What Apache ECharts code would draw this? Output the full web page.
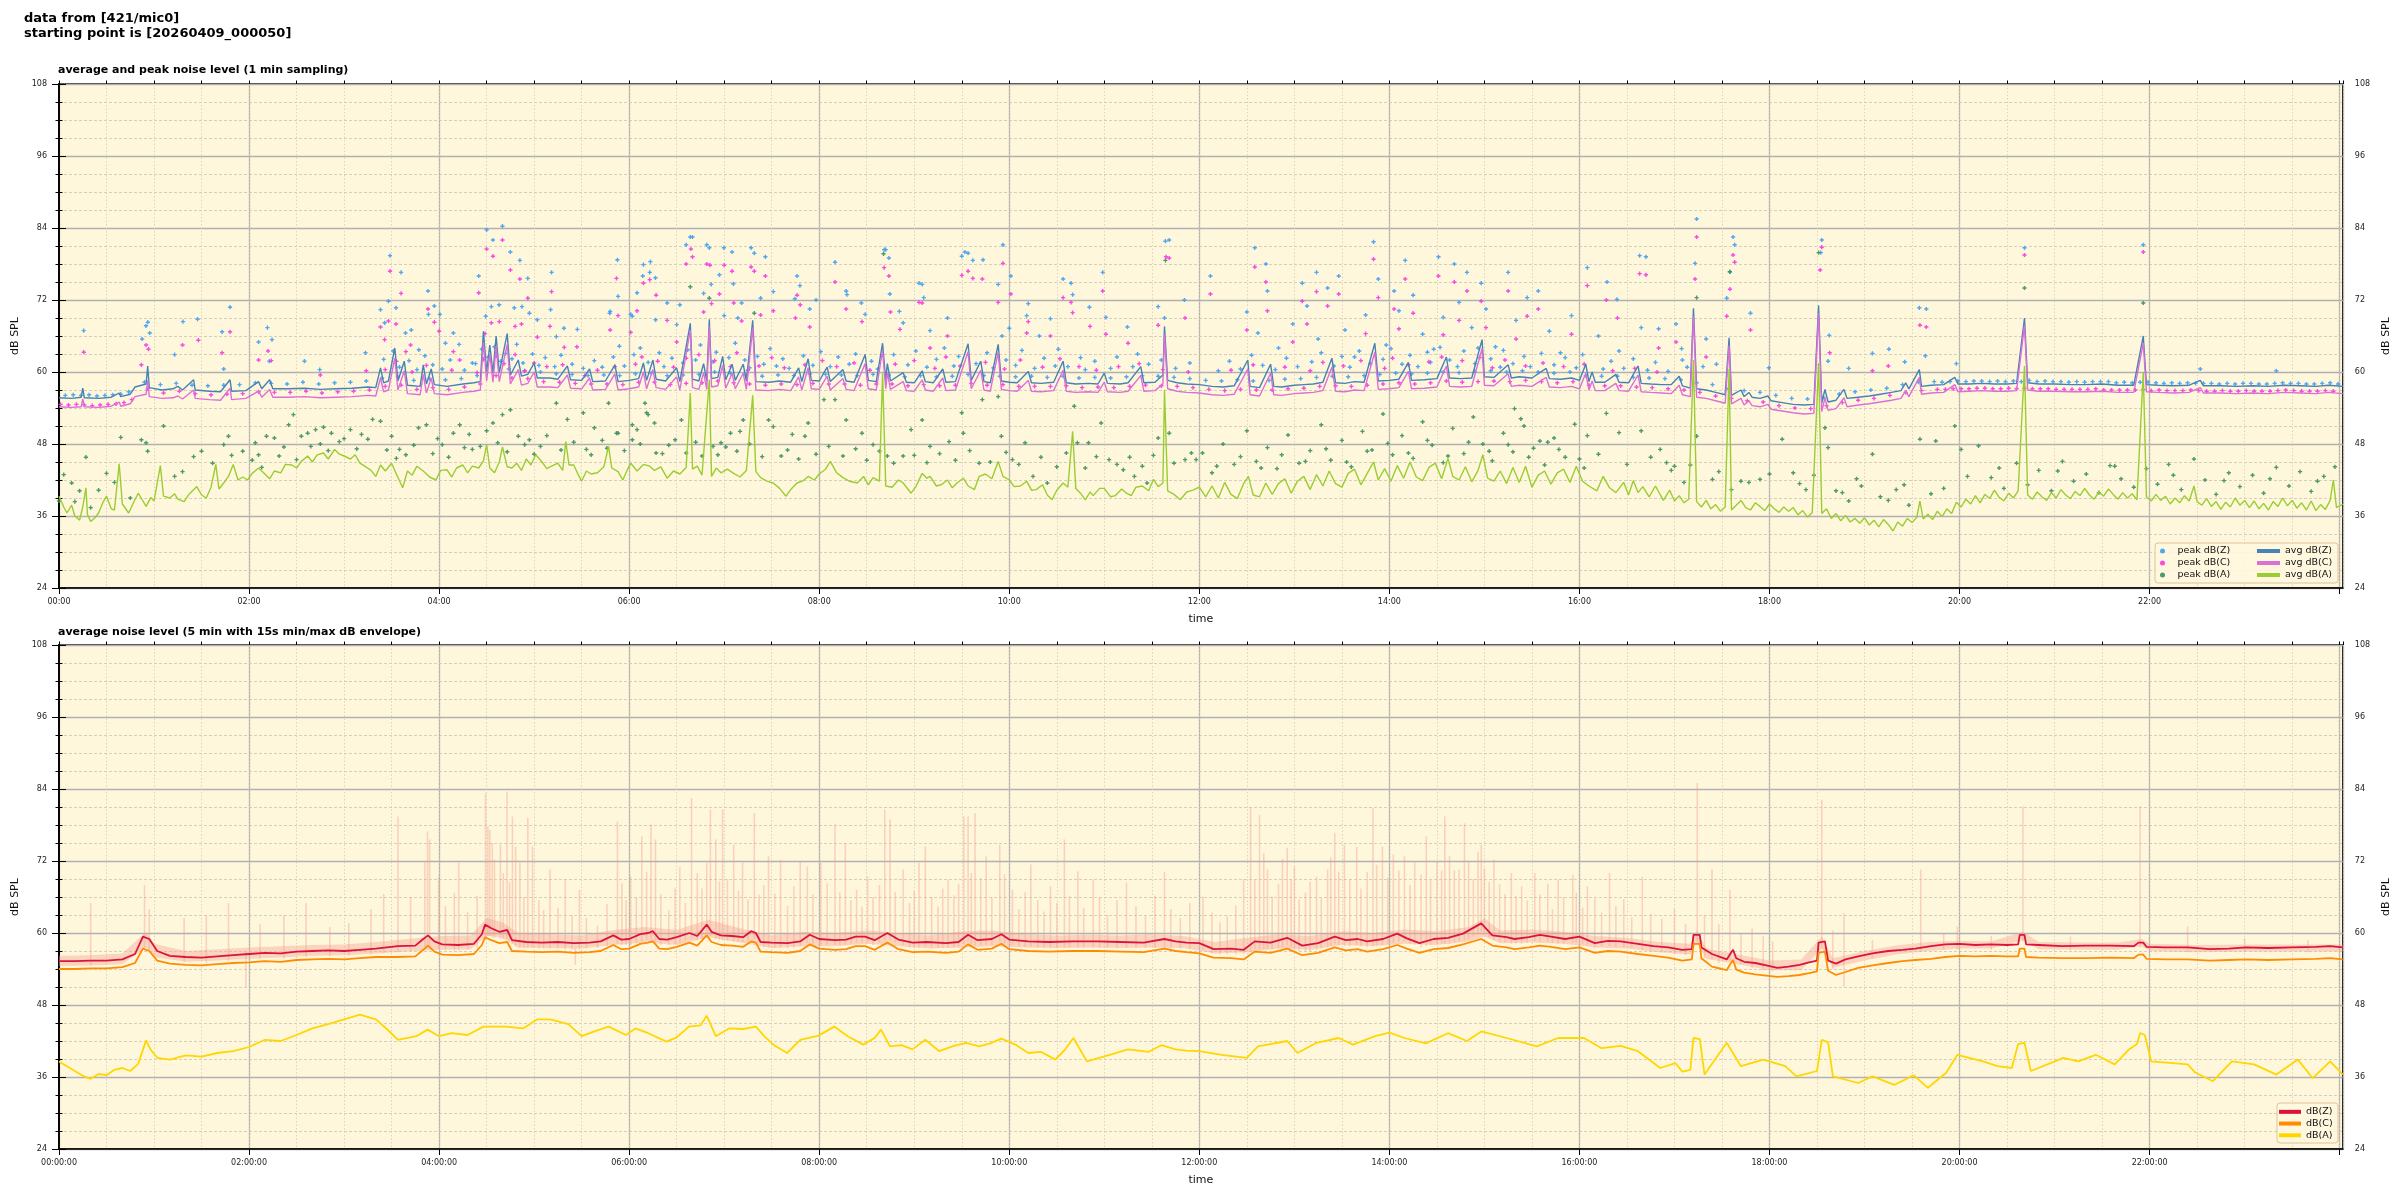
<!DOCTYPE html>
<html><head><meta charset="utf-8">
<script src="https://cdn.jsdelivr.net/npm/echarts@6/dist/echarts.min.js"></script>
<style>html,body{margin:0;padding:0;background:#fff}#c{width:2400px;height:1200px}</style>
</head><body><div id="c"></div>
<script>
// ---------- DATA (time in minutes after 00:00, level in dB SPL) ----------
const xLabelsTop = ['00:00','02:00','04:00','06:00','08:00','10:00','12:00','14:00','16:00','18:00','20:00','22:00'];
const xLabelsBottom = ['00:00:00','02:00:00','04:00:00','06:00:00','08:00:00','10:00:00','12:00:00','14:00:00','16:00:00','18:00:00','20:00:00','22:00:00'];

const avgZ1 = [[0,55.7],[8,55.6],[14,55.8],[15,57.3],[16,55.7],[25,55.6],[33,55.8],[38,56.5],[39,55.9],[45,56.3],[48,57.5],[55,58],[56,61],[57,57.4],[65,57.0],[72,57.2],[75,57.6],[78,57.0],[85,58.7],[86,57.0],[95,56.8],[102,56.7],[108,58.7],[109,56.8],[118,56.9],[126,58.4],[128,57.2],[133,58.7],[135,57.2],[145,57.2],[155,57.3],[165,57.1],[175,57.2],[185,57.3],[195,57.5],[200,57.4],[203,60.7],[205,58.2],[208,58.5],[212,64.0],[214,58.5],[218,61.8],[220,57.8],[228,57.6],[230,61.2],[232,58],[235,60.5],[237,57.9],[245,57.6],[255,58.0],[262,58.2],[266,58.4],[268,66.8],[270,60],[272,64.5],[274,59.8],[276,66],[278,59.9],[283,66.4],[285,59.5],[290,62],[292,59.3],[296,59.6],[300,61.5],[302,59.0],[310,59.0],[315,58.8],[321,61.0],[323,58.7],[330,58.6],[335,60.5],[337,58.4],[345,58.5],[351,61.2],[353,58.4],[360,58.6],[366,58.9],[369,61.5],[371,58.6],[375,62],[377,58.8],[383,58.5],[390,60.7],[392,58.4],[398.6,68.1],[400,58.8],[404,58.5],[407,61.4],[409,58.5],[410.6,68.8],[412,58.9],[416,59.1],[419,62.6],[421,58.7],[425,61.3],[427,58.6],[432,61.3],[434,58.5],[438,68.6],[440,58.4],[448,58.3],[455,58.5],[462,58.3],[467,60.7],[469,58.4],[473,62.2],[475,58.6],[480,58.5],[485,60.8],[487,58.4],[495,60.4],[497,58.5],[502,58.3],[509,62.9],[511,58.6],[516,58.4],[520,64.8],[522,58.6],[523,61.4],[525,58.5],[533,59.9],[535,58.3],[540,58.2],[545,60.2],[547,58.4],[552,58.2],[558,60.5],[560,58.3],[566,58.4],[574,64.7],[576,58.6],[582,61.8],[584,58.4],[588,58.2],[593,64.6],[595,58.5],[600,58.3],[605,58.2],[612,60.1],[614,58.2],[620,58.1],[628,58.3],[634,61.8],[636,58.2],[642,58.0],[650,58.1],[656,58.0],[660,59.8],[662,58.1],[670,58.0],[675,58.2],[683,60.9],[685,58.2],[692,58.3],[697,59.5],[698,67.6],[700,58.6],[706,58.2],[712,58.0],[720,57.9],[728,57.6],[735,57.5],[742,57.7],[750.6,62],[752,57.6],[758,57.4],[765,61.3],[767,57.6],[772,57.5],[780,57.8],[786,57.9],[792,58.0],[798,58.3],[803.7,62.3],[806,58.2],[812,58.1],[818,58.4],[824,58.3],[830.8,64.8],[833,58.5],[840,58.6],[846,58.8],[852,61.6],[854,58.6],[862,58.7],[870,58.9],[876,62.5],[878,59.0],[885,58.9],[892,59.0],[898.5,65.4],[900,59.2],[906,59.1],[915,61.2],[917,59.0],[922,59.2],[930,59.0],[939,60.6],[941,58.9],[948,58.8],[955,59.0],[960,58.6],[964,61.3],[966,58.4],[968,60],[970,58.3],[976,58.3],[983,59.6],[985,58.3],[991,58.2],[997,61],[999,58.1],[1005,58.0],[1012,57.9],[1018,57.9],[1023,59.3],[1025,57.7],[1030,57.3],[1032,70.6],[1034,57.2],[1040,57.0],[1046,56.6],[1052,56.2],[1054.5,65.7],[1056,56.1],[1062,57.0],[1064,55.9],[1067,56.6],[1069,55.8],[1074,55.6],[1079,56],[1081,55.2],[1088,54.9],[1095,54.6],[1102,54.5],[1108,54.6],[1111,71.1],[1113,54.8],[1115,57.1],[1117,55.0],[1122,55.3],[1127,57.1],[1129,55.6],[1136,55.8],[1143,56.0],[1150,56.3],[1157,56.6],[1163,56.9],[1166,58.2],[1168,57.2],[1174.6,60.4],[1176,57.6],[1182,57.8],[1190,57.9],[1197,59.1],[1199,58.0],[1206,58.0],[1214,58.1],[1222,58.0],[1230,58.0],[1236,58.1],[1241,69],[1243,58.2],[1250,58.0],[1260,58.0],[1270,57.9],[1280,57.9],[1290,58.0],[1300,57.8],[1310,57.8],[1316,66],[1318,57.9],[1325,57.8],[1335,57.7],[1345,57.8],[1352,58.6],[1354,57.7],[1365,57.7],[1375,57.6],[1385,57.7],[1395,57.6],[1405,57.8],[1415,57.7],[1425,57.6],[1433,57.8],[1442,57.6]];

const avgC1 = [[0,54.2],[8,54.1],[14,54.2],[15,55.5],[16,54.2],[25,54.1],[33,54.3],[38,55.0],[39,54.3],[45,54.7],[48,55.9],[55,56.3],[56,58.6],[57,55.9],[65,55.6],[72,55.7],[75,56.0],[78,55.5],[85,57.0],[86,55.6],[95,55.4],[102,55.3],[108,57.3],[109,55.4],[118,55.6],[126,56.8],[128,55.8],[133,57.1],[135,55.8],[145,55.8],[155,55.9],[165,55.7],[175,55.8],[185,55.9],[195,56.1],[200,56.0],[203,59.0],[205,56.7],[208,57.0],[212,62.3],[214,57.0],[218,60.2],[220,56.4],[228,56.2],[230,59.6],[232,56.5],[235,59.0],[237,56.4],[245,56.2],[255,56.6],[262,56.8],[266,57.0],[268,65.0],[270,58.5],[272,63.0],[274,58.3],[276,64.3],[278,58.4],[283,64.6],[285,58.0],[290,60.4],[292,57.8],[296,58.1],[300,60.0],[302,57.5],[310,57.5],[315,57.4],[321,59.5],[323,57.3],[330,57.2],[335,59.0],[337,57.0],[345,57.1],[351,59.7],[353,57.0],[360,57.2],[366,57.5],[369,60.0],[371,57.2],[375,60.4],[377,57.4],[383,57.1],[390,59.2],[392,57.0],[398.6,67.0],[400,57.4],[404,57.1],[407,59.9],[409,57.1],[410.6,67.6],[412,57.5],[416,57.7],[419,61.1],[421,57.3],[425,59.8],[427,57.2],[432,59.8],[434,57.1],[438,67.4],[440,57.0],[448,56.9],[455,57.1],[462,56.9],[467,59.2],[469,57.0],[473,60.7],[475,57.2],[480,57.1],[485,59.3],[487,57.0],[495,58.9],[497,57.1],[502,56.9],[509,61.4],[511,57.2],[516,57.0],[520,63.6],[522,57.2],[523,59.9],[525,57.1],[533,58.4],[535,56.9],[540,56.8],[545,58.7],[547,57.0],[552,56.8],[558,59.0],[560,56.9],[566,57.0],[574,63.4],[576,57.2],[582,60.3],[584,57.0],[588,56.8],[593,63.3],[595,57.1],[600,56.9],[605,56.8],[612,58.6],[614,56.8],[620,56.7],[628,56.9],[634,60.3],[636,56.8],[642,56.6],[650,56.7],[656,56.6],[660,58.3],[662,56.7],[670,56.6],[675,56.8],[683,59.4],[685,56.8],[692,56.9],[697,58.0],[698,66.3],[700,57.2],[706,56.8],[712,56.6],[720,56.5],[728,56.2],[735,56.1],[742,56.3],[750.6,60.5],[752,56.2],[758,56.0],[765,59.8],[767,56.2],[772,56.1],[780,56.4],[786,56.5],[792,56.6],[798,56.9],[803.7,60.8],[806,56.8],[812,56.7],[818,57.0],[824,56.9],[830.8,63.3],[833,57.1],[840,57.2],[846,57.4],[852,60.1],[854,57.2],[862,57.3],[870,57.5],[876,61.0],[878,57.6],[885,57.5],[892,57.6],[898.5,63.9],[900,57.8],[906,57.7],[915,59.7],[917,57.6],[922,57.8],[930,57.6],[939,59.1],[941,57.5],[948,57.4],[955,57.6],[960,57.2],[964,59.8],[966,57.0],[968,58.5],[970,56.9],[976,56.9],[983,58.1],[985,56.9],[991,56.8],[997,59.5],[999,56.7],[1005,56.6],[1012,56.5],[1018,56.4],[1023,57.8],[1025,56.2],[1030,55.9],[1032,69.3],[1034,55.8],[1040,55.6],[1046,55.2],[1052,54.8],[1054.5,64.4],[1056,54.7],[1062,55.6],[1064,54.5],[1067,55.2],[1069,54.4],[1074,54.2],[1079,54.6],[1081,53.8],[1088,53.5],[1095,53.2],[1102,53.0],[1108,53.1],[1111,69.8],[1113,53.4],[1115,55.7],[1117,53.6],[1122,53.9],[1127,55.7],[1129,54.2],[1136,54.5],[1143,54.7],[1150,55.0],[1157,55.3],[1163,55.6],[1166,56.9],[1168,55.9],[1174.6,59.1],[1176,56.3],[1182,56.5],[1190,56.6],[1197,57.9],[1199,56.7],[1206,56.8],[1214,56.9],[1222,56.8],[1230,56.8],[1236,56.9],[1241,67.8],[1243,57.0],[1250,56.8],[1260,56.8],[1270,56.7],[1280,56.7],[1290,56.8],[1300,56.6],[1310,56.6],[1316,64.8],[1318,56.7],[1325,56.6],[1335,56.5],[1345,56.6],[1352,57.4],[1354,56.5],[1365,56.5],[1375,56.4],[1385,56.5],[1395,56.4],[1405,56.6],[1415,56.5],[1425,56.4],[1433,56.6],[1442,56.4]];

const avgA1 = [[0,39.3],[3,37.5],[5,36.5],[8,37.8],[10,36.0],[13,35.3],[15,37.5],[17,40.7],[18,36.2],[20,35.1],[23,35.8],[25,36.5],[28,38.4],[30,39.3],[33,37.2],[35,37.0],[38,44.7],[40,38.0],[44,36.5],[47,38.2],[50,39.8],[53,38.5],[55,37.6],[58,39.1],[60,38.5],[64,44.4],[66,39.3],[70,39.0],[73,39.7],[75,38.8],[79,38.4],[82,39.6],[87,40.9],[90,39.5],[93,39.0],[96,40.8],[99,44.6],[101,40.5],[104,41.5],[107,42.6],[110,44.6],[113,42.0],[116,42.5],[119,42.0],[122,43.1],[126,44.0],[130,43.0],[133,42.2],[136,43.5],[140,43.2],[143,44.6],[147,44.5],[150,44.0],[153,45.1],[157,46.0],[160,45.0],[163,46.2],[167,46.5],[170,45.5],[174,47.1],[177,46.3],[180,46.0],[184,45.5],[187,46.2],[190,44.8],[193,44.3],[197,43.6],[200,42.6],[203,44.5],[206,43.5],[210,44.8],[213,43.0],[217,40.7],[220,43.5],[223,42.8],[226,44.3],[230,43.5],[234,42.5],[238,42.0],[241,43.6],[245,43.7],[248,42.5],[251,44.0],[255,44.5],[258,43.2],[261,44.3],[265,44.0],[268,45.2],[270,47.9],[272,44.0],[275,43.2],[278,45.0],[280,47.5],[283,44.2],[286,44.0],[289,44.8],[292,43.6],[295,45.5],[298,44.5],[301,46.2],[305,45.0],[308,43.9],[311,44.3],[315,44.8],[318,43.6],[320,48.4],[322,44.5],[325,44.5],[328,42.8],[330,41.8],[333,43.5],[336,43.0],[340,43.2],[344,44.2],[347,47.6],[349,44.0],[353,43.4],[356,42.0],[359,43.8],[361,44.8],[365,43.5],[369,44.6],[373,44.3],[376,43.6],[380,44.2],[384,42.3],[388,43.5],[392,43.0],[396,44.1],[398.6,56.5],[400,43.8],[403,44.3],[406,42.8],[410.6,58.7],[412,42.6],[415,44.0],[418,43.2],[422,43.8],[426,43.1],[430,42.5],[434,43.6],[438,56.1],[440,43.4],[443,42.4],[447,41.8],[451,41.5],[455,40.6],[459,39.3],[462,40.4],[466,41.5],[470,41.9],[473,42.6],[477,42.0],[480,43.0],[484,43.8],[487,45.1],[491,43.2],[495,42.4],[499,41.8],[504,41.5],[508,42.6],[511,41.2],[514,42.4],[518,41.8],[520,59.8],[522,41.0],[526,40.8],[530,42.0],[533,41.5],[538,39.8],[541,40.9],[545,43.1],[548,42.3],[550,42.6],[554,41.0],[557,41.2],[561,42.0],[564,40.7],[567,41.5],[571,42.3],[574,41.0],[578,40.4],[581,42.6],[585,43.0],[589,42.2],[593,45.1],[596,42.6],[600,42.0],[603,40.9],[607,41.0],[611,41.8],[614,40.3],[617,40.4],[621,41.2],[624,39.5],[627,38.7],[630,40.3],[634,41.5],[637,40.8],[640,50.1],[642,40.6],[645,39.8],[648,38.7],[651,40.0],[653,39.4],[657,40.6],[660,40.6],[664,39.2],[667,39.4],[671,40.5],[674,39.8],[677,39.4],[680,40.8],[684,41.0],[688,40.2],[691,42.1],[694,40.9],[697,41.5],[698,57.0],[700,40.2],[704,39.6],[708,38.7],[712,40.0],[716,40.3],[720,40.8],[724,39.2],[728,41.0],[732,39.0],[736,41.6],[740,39.6],[744,38.9],[748,41.4],[751,42.6],[754,39.5],[758,39.2],[762,41.5],[766,39.6],[770,41.4],[774,42.2],[778,39.8],[782,41.8],[786,42.6],[790,40.4],[794,42.9],[798,41.0],[802,43.5],[806,41.4],[810,40.8],[814,43.1],[818,43.8],[822,41.2],[826,43.1],[830,45.0],[833,42.0],[837,43.9],[841,41.8],[845,44.4],[849,42.3],[853,45.0],[857,42.5],[861,41.9],[865,44.1],[869,44.8],[873,42.2],[877,45.6],[880,42.6],[884,42.0],[888,44.2],[892,41.7],[896,43.6],[899,46.2],[902,42.3],[906,41.8],[910,43.5],[914,41.4],[918,44.1],[922,41.6],[926,44.3],[930,40.8],[934,42.8],[938,43.5],[942,41.3],[946,43.2],[950,43.8],[954,41.6],[958,44.3],[962,41.8],[966,41.0],[971,40.2],[975,42.6],[979,40.7],[983,39.9],[988,41.6],[991,39.5],[994,41.9],[997,39.9],[1000,40.9],[1004,39.2],[1008,41.0],[1013,38.6],[1017,40.3],[1020,38.5],[1023,39.4],[1026,38.2],[1029,38.8],[1032,62.0],[1034,38.4],[1037,37.5],[1040,38.6],[1043,37.2],[1046,37.9],[1049,36.8],[1052,37.5],[1054.5,60.5],[1056,37.0],[1059,37.8],[1062,38.6],[1065,37.4],[1068,37.0],[1071,38.2],[1074,37.6],[1077,36.9],[1080,38.0],[1083,37.2],[1086,36.6],[1089,37.5],[1092,36.8],[1095,37.4],[1098,36.2],[1101,36.9],[1104,35.8],[1107,36.6],[1111,61.5],[1113,36.4],[1116,37.2],[1119,35.6],[1122,36.4],[1125,35.2],[1128,36.1],[1131,35.0],[1134,35.6],[1137,34.8],[1140,35.7],[1143,34.5],[1146,35.3],[1149,34.2],[1152,35.4],[1155,34.6],[1158,33.5],[1161,35.0],[1164,34.3],[1167,35.6],[1170,34.9],[1173,35.8],[1175,38.5],[1177,35.5],[1180,36.3],[1183,35.4],[1186,36.8],[1189,35.9],[1192,37.2],[1195,36.4],[1198,38.3],[1201,37.5],[1204,38.8],[1207,38.0],[1210,39.4],[1213,38.2],[1216,39.6],[1219,38.9],[1222,40.3],[1225,39.1],[1228,38.5],[1231,39.8],[1234,39.0],[1237,40.2],[1241,61.0],[1243,39.5],[1246,38.8],[1249,40.0],[1252,39.2],[1255,38.6],[1258,39.9],[1261,39.0],[1264,40.4],[1267,39.5],[1270,38.9],[1273,40.1],[1276,39.4],[1279,40.6],[1282,39.5],[1285,38.8],[1288,40.0],[1291,39.3],[1294,40.5],[1297,39.6],[1300,38.8],[1303,39.9],[1306,39.0],[1309,39.7],[1312,38.7],[1316,60.0],[1318,39.2],[1321,38.5],[1324,39.6],[1327,38.6],[1330,39.3],[1333,38.0],[1336,39.0],[1339,38.2],[1342,39.4],[1345,38.5],[1348,41.0],[1350,38.4],[1353,37.8],[1356,38.9],[1359,37.6],[1362,38.4],[1365,37.1],[1368,38.3],[1371,37.5],[1374,39.0],[1377,37.8],[1380,38.6],[1383,37.4],[1386,38.5],[1389,37.2],[1392,38.1],[1395,37.0],[1398,38.4],[1401,37.6],[1404,39.0],[1407,37.7],[1410,38.6],[1413,37.3],[1416,38.2],[1419,37.0],[1422,38.5],[1425,36.9],[1428,37.9],[1431,37.1],[1434,38.6],[1436,42.0],[1438,37.4],[1442,38.0]];

const peakZBand = [[4,56.1],[9,56.2],[14,56.1],[19,56.2],[24,56.0],[29,56.1],[34,56.2],[39,56.3],[44,56.7],[54,58.3],[64,57.9],[74,58.1],[84,57.8],[94,57.7],[104,57.8],[114,57.9],[124,58.2],[134,58.1],[144,58.0],[154,58.3],[164,58.0],[174,58.2],[184,58.3],[194,58.5],[204,59.0],[214,59.2],[224,58.6],[234,58.9],[244,58.7],[254,58.9],[264,59.4],[274,60.8],[284,60.5],[294,60.2],[304,60.0],[314,59.7],[324,59.6],[334,59.4],[344,59.5],[354,59.4],[364,59.7],[374,59.8],[384,59.4],[394,59.5],[404,59.6],[414,60.0],[424,59.8],[434,59.5],[444,59.3],[454,59.5],[464,59.4],[474,59.7],[484,59.6],[494,59.5],[504,59.4],[514,59.6],[524,59.5],[534,59.2],[544,59.4],[554,59.2],[564,59.3],[574,59.6],[584,59.4],[594,59.3],[604,59.2],[614,59.3],[624,59.1],[634,59.3],[644,59.0],[654,59.1],[664,59.0],[674,59.2],[684,59.4],[694,59.3],[704,59.1],[714,58.9],[724,58.6],[734,58.5],[744,58.7],[754,58.5],[764,58.6],[774,58.8],[784,58.9],[794,59.1],[804,59.3],[814,59.2],[824,59.4],[834,59.6],[844,59.8],[854,59.7],[864,59.8],[874,60.0],[884,59.9],[894,60.1],[904,60.2],[914,60.0],[924,60.2],[934,60.0],[944,59.8],[954,60.0],[964,59.4],[974,59.3],[984,59.3],[994,59.1],[1004,59.0],[1014,58.9],[1024,58.7],[1034,58.2],[1044,57.9],[1054,57.2],[1064,56.9],[1074,56.6],[1084,56.1],[1094,55.6],[1104,55.5],[1114,55.8],[1124,56.3],[1134,56.7],[1144,57.0],[1154,57.3],[1164,57.9],[1174,58.3],[1184,58.4],[1189,58.3],[1194,58.4],[1199,58.5],[1204,58.4],[1209,58.5],[1214,58.5],[1219,58.4],[1224,58.5],[1229,58.4],[1234,58.5],[1239,58.4],[1244,58.6],[1249,58.4],[1254,58.5],[1259,58.4],[1264,58.4],[1269,58.3],[1274,58.4],[1279,58.3],[1284,58.4],[1289,58.4],[1294,58.4],[1299,58.2],[1304,58.3],[1309,58.2],[1314,58.3],[1319,58.3],[1324,58.2],[1329,58.1],[1334,58.2],[1339,58.1],[1344,58.2],[1349,58.1],[1354,58.1],[1359,58.1],[1364,58.0],[1369,58.1],[1374,58.0],[1379,58.1],[1384,58.1],[1389,58.0],[1394,58.0],[1399,58.1],[1404,58.2],[1409,58.1],[1414,58.1],[1419,58.0],[1424,58.0],[1429,58.1],[1434,58.2],[1439,58.0]];

const peakZMid = [[205,62.1],[211,63.5],[215,60.8],[221,61.9],[226,60.4],[231,62.7],[236,61.2],[242,60.5],[247,62.0],[256,60.3],[263,61.4],[267,63.8],[271,62.5],[275,64.2],[279,61.8],[282,63.1],[286,62.2],[289,64.6],[293,61.5],[299,63.0],[303,61.1],[307,62.4],[313,60.9],[317,62.8],[324,61.3],[331,60.6],[338,61.9],[343,60.8],[350,62.5],[357,61.0],[363,62.9],[367,64.0],[372,61.6],[379,63.2],[382,60.9],[387,62.3],[394,61.5],[397,63.7],[402,62.0],[405,64.5],[413,61.7],[415,63.3],[423,62.4],[427,64.8],[433,62.0],[436,60.7],[441,62.6],[445,61.3],[449,63.9],[453,61.0],[457,62.2],[461,60.6],[470,62.7],[476,61.1],[481,63.4],[487,60.9],[492,62.5],[499,61.3],[503,63.0],[513,61.8],[517,60.5],[527,62.9],[536,61.2],[541,63.5],[548,60.8],[554,62.1],[559,64.0],[565,61.0],[568,62.6],[579,61.4],[586,63.2],[590,60.7],[598,62.0],[604,61.1],[608,63.6],[616,60.6],[622,62.3],[629,61.0],[631,63.8],[637,60.9],[645,62.4],[648,60.4],[654,61.8],[664,60.6],[668,62.5],[678,60.9],[681,63.0],[688,61.3],[696,62.0],[705,60.6],[714,61.5],[732,60.2],[739,61.8],[746,60.5],[753,62.8],[760,61.1],[768,60.4],[775,62.3],[782,60.9],[791,61.7],[797,63.2],[805,61.0],[810,62.6],[815,60.8],[821,63.5],[828,61.4],[836,62.1],[841,63.9],[848,61.3],[853,62.8],[858,60.9],[864,63.3],[866,61.6],[872,64.1],[878,62.0],[883,60.9],[887,63.5],[894,61.4],[896,64.0],[904,62.2],[910,60.8],[912,63.6],[918,61.4],[925,62.6],[929,60.9],[936,63.1],[944,61.2],[951,62.4],[958,60.7],[962,62.9],[975,60.5],[980,61.8],[988,60.6],[994,62.2],[1003,60.3],[1008,61.6],[1016,60.1],[1028,60.8]];

const peakZHigh = [[15.6,66.9],[52.5,65.5],[54.9,67.7],[56.1,68.3],[57.3,66.5],[73,62.9],[78.3,68.4],[87.5,68.8],[103,66.7],[104,60.5],[108,70.8],[126,65],[131.6,67.4],[132.8,61.8],[134.5,65.4],[155,61.8],[164.6,60.4],[193.5,63.2],[203,70.4],[205.6,68.2],[208,71.8],[209,79.4],[212.8,70.7],[216,76.6],[218.8,66.5],[222.4,67],[227.2,63.7],[233,73.5],[233.3,69.6],[237,71],[240.5,69.6],[244,64.8],[249,66.5],[252.6,64.6],[261,61.5],[265,76],[269.4,69.3],[270,83.7],[273,70.9],[274,82],[277.9,71.2],[280,84.3],[285,80],[287.5,70.7],[291,78.6],[292.3,70.9],[296,75.6],[297,69.8],[302,68.7],[310.4,70.4],[311,76.6],[314,65.9],[318.8,67.3],[327.3,67.1],[347.7,69.8],[348,70.1],[352.6,78.7],[353,72.6],[353.8,64.3],[361,69.6],[362,69.3],[365,73.2],[368.6,76],[369,77.9],[373,76.6],[373.4,78.4],[376.6,75.7],[376.7,68.7],[384,71.5],[390,67.9],[392,71.2],[396,81.2],[398.6,82.5],[400,82.5],[407,73.1],[409,81.2],[410.6,80.7],[411.8,74.6],[417,76.2],[419.8,80.7],[420,69.4],[425,80],[425.8,74.7],[428.6,69],[431,71.5],[437,80.7],[439,79.8],[443,72.3],[446,79.2],[451,73.4],[464.6,72.2],[466,76],[467.8,74.4],[474,70.5],[478,72],[490,78.3],[497,73.5],[497.5,72.9],[506.6,71.5],[509,69.6],[521,80.4],[522,80.4],[524,79],[524.6,73],[530.6,70.1],[533,68.2],[543,74.8],[545,74.6],[546,72.4],[550,66.9],[561,69],[570,79.3],[572,80],[574,79.8],[577,78.6],[583.4,78.7],[593,74.6],[595.4,66],[596,81.2],[600,67.3],[601,76],[611,69.4],[612,71.4],[619,66],[626,68.9],[634,75.5],[639,74.8],[640,72.9],[650.6,70.8],[659,76.6],[661,69.1],[674.6,67.5],[694,70.9],[698,69],[698.6,81.8],[701,82],[710.6,72],[727,76],[750,70],[755,80.7],[757,66.5],[762,78],[763,73.5],[770,64],[779,68],[785,74.8],[788,71],[794,76.6],[795,65.5],[801,74],[808,76],[812,67],[818,62.5],[825,69.5],[830,81.7],[833,75.5],[838,64.5],[843,73.5],[846,70.2],[850,78.6],[855,72.8],[861,66.3],[868,63.8],[871,79.2],[874,69.1],[881,78],[884,71.6],[889,76.6],[892,67.4],[898,74.8],[901,70.5],[907,64.2],[915,76.6],[920,68.6],[927,72.4],[934,73.5],[941,66.8],[948,63.2],[955,69.4],[965,77.4],[972,66],[977.4,75],[983.7,72.1],[985,63.5],[998,79.4],[999,67.4],[1002,79.2],[1010,67.2],[1021,68],[1024.5,63.9],[1025,62],[1033,78.1],[1034,85.5],[1038,60.9],[1040,65.5],[1046.5,61.3],[1053,72.3],[1055,76.7],[1057,82.5],[1058,81.2],[1068,69.8],[1079.6,60.7],[1112.4,79.9],[1113,82],[1117,61.8],[1117.7,66.1],[1130,60.6],[1145,63.1],[1155.4,63.8],[1165.4,61.7],[1174.6,70.7],[1178.4,62.7],[1179,70.5],[1198,61.4],[1241,80.7],[1316,81.2],[1352,60.5],[1400,60.2]];

const peakCBand = [[1,54.6],[6,54.5],[11,54.6],[16,54.5],[21,54.4],[26,54.5],[31,54.6],[36,54.7],[41,54.9],[46,55.4],[56,57.2],[66,56.5],[76,56.8],[86,56.4],[96,56.2],[106,56.3],[116,56.4],[126,56.7],[136,56.6],[146,56.6],[156,56.8],[166,56.5],[176,56.7],[186,56.8],[196,57.0],[206,57.6],[216,57.8],[226,57.1],[236,57.4],[246,57.1],[256,57.5],[266,58.0],[276,59.4],[286,59.0],[296,58.9],[306,58.4],[316,58.3],[326,58.1],[336,58.0],[346,58.0],[356,57.9],[366,58.3],[376,58.3],[386,57.9],[396,58.1],[406,58.2],[416,58.5],[426,58.2],[436,58.0],[446,57.8],[456,58.0],[466,57.9],[476,58.1],[486,58.0],[496,58.0],[506,57.8],[516,58.0],[526,58.0],[536,57.7],[546,57.9],[556,57.7],[566,57.8],[576,58.1],[586,57.8],[596,57.9],[606,57.6],[616,57.6],[626,57.6],[636,57.7],[646,57.4],[656,57.5],[666,57.4],[676,57.6],[686,57.8],[696,57.7],[706,57.6],[716,57.4],[726,57.1],[736,56.9],[746,57.1],[756,57.0],[766,57.0],[776,57.2],[786,57.3],[796,57.6],[806,57.7],[816,57.6],[826,57.8],[836,58.0],[846,58.2],[856,58.0],[866,58.2],[876,58.5],[886,58.3],[896,58.4],[906,58.5],[916,58.4],[926,58.6],[936,58.4],[946,58.2],[956,58.4],[966,57.8],[976,57.7],[986,57.7],[996,57.5],[1006,57.4],[1016,57.2],[1026,57.0],[1036,56.6],[1046,56.0],[1056,55.6],[1066,55.2],[1076,55.0],[1086,54.4],[1096,54.0],[1106,53.9],[1116,54.4],[1126,54.9],[1136,55.3],[1146,55.6],[1156,56.1],[1166,56.6],[1176,56.9],[1186,57.1],[1191,57.1],[1196,57.2],[1201,57.2],[1206,57.2],[1211,57.3],[1216,57.3],[1221,57.2],[1226,57.2],[1231,57.3],[1236,57.2],[1241,57.3],[1246,57.2],[1251,57.2],[1256,57.2],[1261,57.1],[1266,57.1],[1271,57.1],[1276,57.1],[1281,57.1],[1286,57.2],[1291,57.0],[1296,57.0],[1301,57.0],[1306,57.0],[1311,57.0],[1316,57.1],[1321,56.9],[1326,57.0],[1331,56.9],[1336,56.9],[1341,56.9],[1346,57.0],[1351,56.9],[1356,56.8],[1361,56.8],[1366,56.9],[1371,56.8],[1376,56.8],[1381,56.9],[1386,56.8],[1391,56.8],[1396,56.8],[1401,56.9],[1406,57.0],[1411,56.9],[1416,56.8],[1421,56.8],[1426,56.8],[1431,56.9],[1436,56.8]];

const peakCMid = [[206,60.4],[213,61.8],[223,60.0],[232,61.1],[248,60.3],[264,59.9],[268,62.1],[276,62.7],[281,61.4],[288,62.9],[294,60.2],[300,61.5],[308,60.9],[318,61.2],[332,59.4],[340,60.3],[351,60.9],[364,61.3],[368,62.5],[378,61.8],[388,60.8],[396,62.3],[404,62.9],[414,61.9],[424,60.9],[428,63.2],[435,60.3],[442,61.0],[450,62.4],[458,60.7],[471,61.2],[482,61.9],[491,60.9],[502,61.5],[512,60.3],[528,61.3],[540,61.9],[553,60.6],[560,62.5],[569,61.0],[585,61.6],[597,60.5],[607,62.0],[621,60.8],[632,62.2],[644,60.9],[655,60.3],[669,60.9],[682,61.4],[697,60.4],[713,60.0],[740,60.3],[754,61.2],[774,60.8],[790,60.2],[798,61.6],[811,61.0],[822,61.9],[837,60.6],[842,62.3],[852,61.2],[865,61.7],[873,62.5],[886,61.9],[897,62.4],[905,60.7],[913,62.0],[926,61.0],[937,61.5],[950,60.9],[963,61.3],[981,60.2],[995,60.6],[1009,60.0]];

const peakCHigh = [[15.6,63.3],[52,61.2],[55,64.5],[56.5,63.8],[78,64.5],[88,65.3],[103,63.2],[108,66.7],[126,62.0],[132,63.5],[134,61.9],[165,59.5],[194,60.2],[203,67.5],[205.6,65.4],[208,68.5],[209,76.8],[212.8,68.0],[216,73.1],[219,63.4],[222,64.5],[233,70.5],[237,68.3],[240,66.8],[249,63.4],[253,62.0],[265,73.2],[269,66.4],[270,80.5],[273,68.2],[274,79.3],[278,68.4],[280,82.0],[285,77.0],[288,67.6],[291,75.5],[292,68.0],[296,72.3],[302,65.8],[310,67.6],[311,73.4],[319,64.1],[327,64.2],[348,67.0],[352,75.6],[353,69.4],[361,66.6],[365,70.2],[369,74.8],[373,75.4],[377,72.8],[384,68.6],[390,65.0],[396,78.0],[399,80.5],[400,79.2],[407,70.0],[409,78.0],[411,77.8],[412,71.4],[417,73.0],[420,77.8],[425,76.8],[426,71.5],[431,68.5],[437,77.5],[439,76.8],[443,69.5],[446,76.0],[451,70.2],[465,69.0],[466,72.8],[468,71.2],[474,67.5],[490,75.0],[497,70.5],[507,68.4],[521,77.4],[524,76.0],[525,70.0],[531,67.1],[543,71.6],[545,71.5],[550,64.0],[561,66.0],[570,76.1],[574,76.8],[577,75.6],[583,75.5],[593,71.6],[596,78.1],[601,73.0],[611,66.5],[612,68.4],[626,66.0],[634,72.4],[639,71.6],[640,69.9],[651,67.6],[659,73.5],[661,66.3],[675,64.8],[694,67.8],[699,79.2],[701,79.0],[711,69.0],[727,73.0],[750,67.0],[755,77.5],[762,75.0],[763,70.2],[779,65.0],[785,71.8],[788,68.0],[794,73.4],[801,71.0],[808,73.0],[825,66.4],[830,78.8],[833,72.4],[843,70.5],[846,67.2],[850,75.5],[855,69.8],[871,76.0],[874,66.2],[881,75.0],[884,68.6],[889,73.5],[898,71.8],[901,67.4],[915,73.5],[920,65.5],[927,69.3],[934,70.5],[955,66.3],[965,74.4],[977,72.0],[984,69.0],[998,76.4],[1002,76.2],[1010,64.0],[1021,65.0],[1033,75.5],[1034,82.5],[1040,62.5],[1053,69.3],[1055,73.8],[1057,79.5],[1058,78.3],[1068,67.0],[1112,77.0],[1113,80.8],[1118,63.2],[1145,60.2],[1155,61.0],[1175,67.8],[1179,67.5],[1241,79.5],[1316,80.0]];

const peakA = [[0,38.5],[3,42.9],[8,41.5],[10,38.4],[13,40.2],[17,45.8],[20,37.4],[25,40.3],[30,43.1],[35,41.6],[39,49.1],[45,39.0],[52,48.7],[55,48.2],[56,46.8],[66,51],[73,42.6],[78,43.4],[85,45.9],[90,46.8],[97,44.8],[104,47.9],[107,49.3],[109,46.1],[116,46.8],[124,48.2],[126,46.2],[131,49.3],[136,49],[145,51.2],[148,52.9],[153,49.3],[157,49.8],[162,50.4],[167,50.8],[172,49.8],[177,48.4],[184,50.4],[191,49.6],[198,52.1],[203,51.8],[210,49.3],[215,47.1],[219,46.2],[227,50.7],[232,51.2],[242,47.9],[249,49.8],[253,51.2],[261,47.1],[266,47.6],[274,51.5],[280,52.9],[285,53.7],[290,49.3],[297,48.7],[304,47.6],[314,54.8],[321,52.1],[331,53.2],[333,47.1],[338,50.7],[347,54.8],[352,49.8],[362,51.2],[371,53.2],[376,51.5],[346,47.3],[353,49.8],[362,48.7],[365,50.4],[370,54.8],[372,52.9],[377,46.5],[389,48.7],[393,52],[398.6,74.2],[410.6,72.3],[520.6,79.7],[698.6,78.6],[406,46],[413,47.6],[418,48.2],[424,49.8],[430,50.1],[432,52],[439,69.8],[448,52],[451,50.9],[456,46],[463,49.6],[471,49.3],[473,51.5],[483,55.4],[490,55.4],[497,52],[507,49.8],[514,47.9],[523,46],[533,46],[538,50.4],[545,52],[550,47.6],[562,48.4],[570,53.2],[571,49.8],[581,44.8],[583,55.4],[593,55.9],[595,49.3],[602,45.4],[610,48.2],[615,42.6],[624,41.5],[641,54.3],[643,48.2],[650,48.2],[658,51.5],[663,45.4],[672,43.7],[679,42.6],[687,41.5],[694,49],[701,49.8],[711,45.4],[715,46.5],[722,46.5],[728,43.2],[735,48.0],[742,44.6],[750,50.2],[756,45.1],[763,47.4],[769,43.9],[776,49.5],[783,44.8],[790,46.9],[797,51.2],[803,45.3],[810,48.6],[816,44.2],[823,50.1],[829,47.0],[836,53.0],[842,46.2],[848,49.4],[855,45.6],[861,51.7],[867,47.8],[874,44.9],[880,50.6],[887,46.4],[893,52.5],[899,48.0],[905,45.2],[912,49.8],[918,46.7],[919,53.9],[923,52.2],[925,51.0],[931,47.3],[935,48.5],[938,44.5],[940,48.3],[944,49.0],[951,45.8],[957,51.3],[963,44.0],[965,49.4],[977,53.1],[985,49.9],[999,50.2],[1011,47.1],[1015,44.9],[1020,44.3],[1026,41.6],[1034,49.3],[1034,72.4],[1044,42.1],[1055,76.7],[1056,40.4],[1067,41.6],[1074,42.1],[1088,48.8],[1095,43.2],[1103,40.4],[1111,79.9],[1115,50.7],[1117,47.4],[1126,39.9],[1130,38.5],[1138,41.0],[1145,46.3],[1150,39.2],[1160,40.4],[1168,37.8],[1175,48.8],[1185,48.5],[1190,40.6],[1197,51],[1201,47.1],[1212,47.7],[1220,42.4],[1228,40.6],[1236,44.8],[1241,74.0],[1243,41.2],[1250,43.6],[1258,40.2],[1265,45.1],[1272,41.8],[1280,43.0],[1288,39.9],[1295,44.4],[1302,42.2],[1310,40.8],[1316,71.5],[1318,43.9],[1325,41.3],[1332,44.6],[1340,40.4],[1348,45.5],[1355,42.0],[1362,39.6],[1370,43.2],[1377,40.9],[1385,42.8],[1392,39.8],[1400,44.1],[1408,41.0],[1415,43.4],[1422,40.1],[1430,42.6],[1437,44.2],[122,45.3],[128,44.1],[139,46.0],[142,47.5],[150,45.4],[159,47.6],[165,48.0],[170,46.9],[180,48.9],[188,47.2],[195,48.8],[207,47.0],[213,45.6],[224,47.8],[236,46.4],[239,48.9],[246,45.8],[256,47.4],[259,49.6],[270,50.2],[277,48.2],[283,46.7],[294,47.9],[300,46.3],[308,49.4],[317,47.0],[325,48.3],[336,46.2],[343,48.6],[357,46.9],[367,48.0],[381,46.4],[385,47.8],[396,46.5],[402,48.3],[416,46.2],[421,47.5],[428,46.8],[436,48.0],[444,45.9],[460,47.0],[467,45.5],[478,46.3],[486,47.6],[495,46.0],[503,47.2],[510,45.3],[518,46.8],[527,44.8],[540,46.1],[548,44.9],[556,46.4],[566,45.3],[575,46.9],[588,45.0],[598,46.6],[606,44.6],[620,45.8],[630,44.2],[636,46.5],[648,44.0],[655,45.9],[668,44.6],[676,45.8],[684,44.3],[691,46.1],[704,44.8],[718,45.4],[731,44.3],[746,45.9],[759,44.0],[772,46.2],[787,45.1],[800,47.2],[813,45.0],[826,46.8],[839,48.1],[852,46.5],[864,48.6],[877,46.0],[890,48.3],[903,46.8],[915,47.9],[928,45.8],[947,47.1],[960,45.5],[972,46.3],[990,44.6],[1005,45.8],[1018,43.6],[1030,44.5],[1048,43.4],[1062,41.8],[1080,43.0],[1099,41.4],[1108,42.8],[1122,40.2],[1135,42.2],[1155,38.6],[1165,41.2],[1182,39.7],[1205,42.6],[1225,44.0],[1262,43.5],[1298,44.3],[1335,42.8],[1367,41.9],[1396,42.2],[1426,41.8]];

const avgZ2 = [[0,55.3],[10,55.3],[20,55.4],[30,55.4],[40,55.6],[48,56.5],[53,59.4],[57,59.0],[62,57.0],[70,56.2],[80,56.0],[90,55.9],[100,56.1],[110,56.3],[120,56.5],[130,56.7],[140,56.6],[150,56.9],[160,57.0],[170,57.1],[180,57.0],[190,57.2],[200,57.4],[214,57.8],[225,57.9],[230,59.0],[233,59.6],[237,58.6],[242,58.1],[252,58.0],[262,58.2],[267,59.8],[269,61.4],[273,60.8],[278,60.2],[283,60.5],[286,58.8],[295,58.5],[305,58.4],[315,58.5],[325,58.3],[335,58.4],[342,58.6],[350,59.6],[355,58.9],[360,59.0],[367,59.8],[372,60.0],[375,60.3],[379,59.0],[384,58.9],[390,59.3],[398,60.0],[403,59.5],[409,61.4],[412,60.2],[418,59.6],[425,59.5],[432,59.3],[437,60.3],[440,60.0],[443,58.5],[450,58.4],[460,58.3],[468,58.6],[474,59.7],[480,59.0],[490,58.8],[497,58.9],[503,59.4],[509,59.4],[515,58.8],[523,60.0],[530,58.9],[539,58.4],[548,58.5],[560,58.3],[568,58.5],[574,59.7],[580,58.8],[589,59.0],[595,59.8],[600,58.9],[612,58.6],[625,58.5],[640,58.6],[656,58.6],[670,58.5],[685,58.4],[698,59.0],[705,58.6],[712,58.4],[720,58.3],[729,57.3],[740,57.4],[748,57.2],[755,58.6],[765,58.4],[775.5,59.2],[785,57.9],[795,58.3],[805.5,59.4],[812.5,58.8],[820,59.0],[826,58.6],[836,59.0],[845,59.9],[851,59.1],[859,58.3],[868,59.0],[877,59.2],[886.5,59.9],[898,61.6],[905,59.6],[914,59.3],[919,59.0],[928,59.3],[935,59.7],[942,59.4],[951,59.0],[960,59.4],[969.7,58.3],[978,58.7],[986,58.6],[997,58.2],[1006.7,57.8],[1016,57.6],[1025,57.2],[1031,57.3],[1032,59.7],[1036,59.7],[1037,57.6],[1043.7,56.5],[1050,55.9],[1053,55.6],[1055,56.4],[1057,57.2],[1059,55.8],[1064,55.2],[1071,55.0],[1078,54.6],[1085,54.2],[1092,54.4],[1099,54.7],[1105,55.1],[1110,55.4],[1111,58.4],[1115,58.6],[1117,55.4],[1122,54.9],[1128,55.6],[1136,56.1],[1145,56.6],[1155,57.0],[1164,57.2],[1172,57.4],[1182,57.8],[1191,58.1],[1200,58.2],[1210,58.0],[1220,58.1],[1230,58.0],[1237,58.1],[1238,59.7],[1241,59.7],[1242,58.1],[1250,58.0],[1265,57.8],[1280,57.9],[1295,57.9],[1310,57.8],[1313,58.4],[1316,58.4],[1318,57.7],[1330,57.6],[1344,57.6],[1358,57.3],[1370,57.4],[1381,57.6],[1395,57.5],[1410,57.6],[1425,57.7],[1434,57.8],[1442,57.6]];

const avgC2 = [[0,54.0],[10,54.0],[20,54.1],[30,54.1],[40,54.3],[48,55.0],[53,57.4],[57,57.0],[62,55.4],[70,54.9],[80,54.7],[90,54.6],[100,54.8],[110,55.0],[120,55.1],[130,55.3],[140,55.2],[150,55.5],[160,55.6],[170,55.7],[180,55.6],[190,55.8],[200,56.0],[214,56.0],[225,56.1],[230,57.2],[233,57.9],[237,56.9],[242,56.4],[252,56.3],[262,56.5],[267,58.0],[269,59.3],[273,58.8],[278,58.3],[283,58.5],[286,57.0],[295,56.9],[305,56.8],[315,56.9],[325,56.7],[335,56.8],[342,57.0],[350,58.0],[355,57.3],[360,57.4],[367,58.2],[372,58.4],[375,58.6],[379,57.4],[384,57.3],[390,57.7],[398,58.4],[403,57.9],[409,59.6],[412,58.5],[418,58.0],[425,57.9],[432,57.7],[437,58.6],[440,58.4],[443,56.9],[450,56.8],[460,56.7],[468,57.0],[474,58.1],[480,57.4],[490,57.2],[497,57.3],[503,57.8],[509,57.8],[515,57.2],[523,58.4],[530,57.3],[539,56.8],[548,56.9],[560,56.7],[568,56.9],[574,58.1],[580,57.2],[589,57.4],[595,58.2],[600,57.3],[612,57.0],[625,56.9],[640,57.0],[656,57.0],[670,56.9],[685,56.8],[698,57.4],[705,57.0],[712,56.8],[720,56.6],[729,55.9],[740,55.8],[748,55.6],[755,56.9],[765,56.7],[775.5,57.4],[785,56.3],[795,56.7],[805.5,57.6],[812.5,57.1],[820,57.3],[826,56.9],[836,57.3],[845,58.0],[851,57.4],[859,56.7],[868,57.3],[877,57.5],[886.5,58.1],[898,59.0],[905,57.9],[914,57.6],[919,57.3],[928,57.6],[935,57.9],[942,57.7],[951,57.3],[960,57.6],[969.7,56.7],[978,57.0],[986,56.9],[997,56.5],[1006.7,56.2],[1016,55.9],[1025,55.4],[1031,55.6],[1032,58.2],[1036,58.2],[1037,55.8],[1043.7,54.4],[1050,54.0],[1053,53.8],[1055,54.7],[1057,55.5],[1059,53.9],[1064,53.4],[1071,53.1],[1078,52.9],[1085,52.7],[1092,52.8],[1099,53.0],[1105,53.3],[1110,53.6],[1111,56.7],[1115,56.9],[1117,53.7],[1122,53.0],[1128,53.5],[1136,54.2],[1145,54.6],[1155,55.0],[1164,55.3],[1172,55.5],[1182,55.7],[1191,56.0],[1200,56.2],[1210,56.1],[1220,56.2],[1230,56.1],[1237,56.1],[1238,57.4],[1241,57.4],[1242,56.0],[1250,55.9],[1265,55.8],[1280,55.8],[1295,55.9],[1310,55.8],[1313,56.4],[1316,56.4],[1318,55.7],[1330,55.6],[1344,55.6],[1358,55.4],[1370,55.5],[1381,55.6],[1395,55.5],[1410,55.6],[1425,55.7],[1434,55.8],[1442,55.6]];

const avgA2 = [[0,38.6],[5,37.8],[10,37.0],[15,36.2],[20,35.7],[25,36.5],[30,36.3],[35,37.2],[40,37.5],[45,37.0],[50,38.2],[55,42.1],[58,40.5],[62,39.2],[70,38.9],[80,39.6],[90,39.4],[100,40.0],[110,40.3],[120,41.0],[130,42.2],[140,42.0],[150,43.0],[160,44.1],[170,44.8],[180,45.6],[190,46.4],[200,45.6],[207,44.0],[214,42.2],[225.6,42.8],[232.7,43.9],[240,42.8],[248,43.3],[258,43.0],[268,44.4],[282,44.4],[293,44.1],[301.8,45.6],[310,45.6],[321.6,44.8],[330,42.8],[338,43.6],[347,44.4],[358,43.0],[364,44.1],[372,43.3],[383.6,41.9],[390,42.6],[397.7,44.4],[405,44.6],[409,46.2],[414.7,42.8],[423,44.1],[432,44.0],[440,44.4],[445.7,42.7],[452,41.2],[459.8,40.0],[468,42.2],[479.6,42.9],[489.5,44.4],[498,42.8],[507.8,41.4],[515,42.5],[519,43.9],[524.7,41.1],[532,41.3],[538.9,40.6],[547,42.2],[555.8,40.3],[565,41.2],[572.7,41.7],[581,41.1],[588,41.6],[595,42.4],[603.8,41.4],[612,40.0],[620,40.2],[629,38.9],[635,40.5],[640.5,42.5],[649,38.6],[656.8,39.2],[665,39.8],[675,40.6],[688,40.2],[696,41.3],[705,40.6],[712,40.4],[720,40.3],[734,39.7],[750,39.2],[757,41.1],[775.5,42.0],[782,40.0],[794,41.7],[808,42.5],[817,41.4],[831,42.8],[840,43.4],[849.5,42.5],[863,41.6],[877,43.3],[889,42.0],[898,43.6],[914,42.5],[933,41.1],[946.6,42.5],[962.8,42.5],[974,40.8],[986,41.2],[997,40.3],[1011,37.5],[1020.6,38.3],[1025,36.9],[1030,37.2],[1032,42.5],[1036,42.3],[1039,36.4],[1053,41.7],[1062,37.8],[1076,38.9],[1090,37.8],[1097,36.1],[1110,37.0],[1113,42.2],[1117,41.8],[1120,36.1],[1136,35.0],[1145,36.1],[1159,34.7],[1171,36.3],[1180,34.2],[1191.6,36.7],[1198.6,39.7],[1214.8,38.6],[1224,37.8],[1233,37.5],[1237,41.5],[1241,41.7],[1245,37.0],[1265.6,39.2],[1275,38.6],[1286,39.7],[1298,38.1],[1307,40.6],[1312,41.5],[1314,43.3],[1317,43.0],[1321,38.6],[1344,38.1],[1349,36.7],[1360,35.3],[1372,38.6],[1386,38.1],[1400,36.4],[1413.6,38.9],[1423,35.8],[1434,38.6],[1442,36.4]];

// 15 s min/max envelope of dB(Z): band [t, min, max] and individual excursions [t, min, max]
const envBand = [[0,54.5,56.2],[20,54.6,56.3],[40,54.8,56.6],[55,57.6,60.2],[60,56.0,58.2],[80,55.2,57.0],[100,55.4,57.3],[120,55.7,57.6],[140,55.9,57.8],[160,56.2,58.0],[180,56.3,58.1],[200,56.6,58.5],[220,56.9,59.0],[240,57.2,59.5],[260,57.3,59.6],[270,59.6,62.5],[280,59.2,61.8],[290,57.6,60.0],[310,57.5,59.8],[330,57.4,59.6],[350,58.0,60.5],[370,58.4,61.0],[390,58.0,60.5],[410,59.3,62.2],[430,58.4,60.8],[450,57.5,59.6],[470,57.8,60.2],[490,57.8,60.0],[510,58.2,60.4],[530,57.8,60.0],[550,57.4,59.6],[570,57.6,60.3],[590,57.8,60.4],[610,57.6,59.8],[630,57.5,59.6],[650,57.6,59.7],[670,57.5,59.6],[690,57.6,59.8],[710,57.5,59.5],[730,56.6,58.5],[750,56.8,59.2],[770,57.4,59.8],[790,57.2,59.5],[810,58.0,60.3],[830,57.8,60.0],[850,58.2,60.6],[870,58.0,60.3],[890,58.6,61.0],[900,59.4,62.4],[910,58.3,60.4],[930,58.4,60.6],[950,58.2,60.2],[970,57.6,59.5],[990,57.4,59.2],[1010,56.8,58.5],[1030,56.4,58.2],[1034,58.4,60.4],[1040,55.7,57.4],[1060,54.8,56.4],[1080,53.8,55.4],[1100,53.8,55.6],[1113,57.4,59.4],[1120,54.2,55.8],[1140,55.4,57.0],[1160,56.4,57.9],[1180,57.0,58.5],[1200,57.4,58.7],[1220,57.4,58.6],[1240,58.8,60.2],[1250,57.3,58.5],[1280,57.2,58.4],[1300,57.2,58.4],[1315,57.8,59.0],[1320,57.0,58.2],[1350,56.8,58.0],[1380,56.9,58.1],[1410,56.9,58.1],[1442,56.9,58.1]];

const envSpikes = [[20,54.6,65],[54,57.5,68],[57,57,64],[79,55.2,62.5],[93,55,63],[107,55.3,65],[118,51,57],[127,55.7,61.5],[142,55.7,63],[156,56,65],[171,56.1,61],[183,56.2,61.6],[197,56.4,64],[205,56.6,66.5],[214,56.8,79.4],[222,56.9,66],[231,57.5,71.9],[232.7,57.8,76.9],[234,57.8,75.6],[239.7,57.4,69.4],[244,57.2,64.5],[249.6,57.1,66.7],[252.4,57.1,71.7],[258,57.2,63.5],[264,57.4,66.2],[269.3,58.8,83.3],[270.8,59.5,77.8],[272,59.5,77.2],[273.6,59.3,75],[275,59.2,72.2],[278.7,59,74.7],[280.5,59,70],[282.9,59,83.6],[284.5,58.8,68.5],[286.3,58.2,79.4],[288.3,57.8,74.4],[291,57.6,71.7],[293.5,57.5,66],[296,57.5,79.2],[299,57.5,74.4],[303,57.4,65.5],[306,57.4,63.8],[310,57.4,70.6],[315,57.4,64.2],[319.6,57.3,68.9],[324,57.3,63],[326,54.7,57.5],[328.6,57.3,67.2],[333,57.4,62.5],[340,57.5,61.2],[346,57.7,64.8],[352.6,58.2,78.6],[355.4,58,68.3],[358,58,65.5],[361,58,69.4],[364.5,58.3,66],[368,58.6,76.1],[371,58.8,70.2],[373.8,58.8,78.1],[376.6,58.4,75.6],[380,58,66.4],[385,58,63.8],[389,58.2,67.5],[392,58.3,71.1],[395.5,58.7,65],[399.4,59,82.5],[403,58.8,70],[406,59,67.4],[409,59.8,71.7],[411.3,59.5,80.6],[414.7,59,75.6],[417,58.8,68.6],[419,58.8,80.6],[422,58.7,69],[426,58.6,74.7],[429,58.5,67],[431.6,58.5,71.7],[435,58.6,65.6],[439,59,80],[442,58.5,66.4],[445,57.6,68],[448,57.6,72.8],[452,57.5,66.6],[455.6,57.5,72.2],[460,57.4,64.5],[464,57.6,67.8],[468,57.8,71.9],[472.5,58.4,71.1],[476,58.2,66.4],[481,58.1,71.7],[485,58,68.3],[490,58,78.1],[493,57.9,66.8],[496.5,58,75],[500,58.2,65.5],[503.6,58.4,67.2],[507,58.4,64.4],[510.6,58.4,69.4],[514,58,66],[518,58.4,68],[521.4,58.8,80.6],[524.7,58.8,78.9],[528,58.4,66.8],[533,58,70.6],[537,57.6,65],[540,57.5,67],[543,57.6,71.7],[547,57.7,74.4],[551,57.6,66],[555,57.5,64.4],[558,57.5,67.4],[561.4,57.5,68.9],[565,57.6,66.3],[568,57.7,68.2],[571.3,58.2,79.4],[574,58.6,79.4],[576,58.2,70],[578.4,58,80],[582,58,69.2],[585.4,58,72.8],[589,58,66],[594,58.5,74.7],[597,58.2,69.8],[602,58,67.2],[606,57.8,64],[610,57.7,66.8],[613.6,57.7,71.4],[618,57.6,65.5],[622,57.6,63.6],[626,57.6,67.8],[630,57.6,65],[634.8,57.6,75.6],[638,57.6,66.2],[643.3,57.6,70.3],[647,57.6,64.2],[653,57.6,68.9],[657,57.6,66],[662,57.6,63],[668,57.5,65.5],[674,57.5,68.4],[680,57.5,64.5],[686,57.5,62.8],[692,57.5,66.2],[698,57.6,70.2],[702,57.5,64],[708,57.4,62.5],[714,57.4,65],[722.3,57.2,66.1],[728,56.6,63.4],[733,56.4,61.8],[737.6,56.4,62.8],[743,56.4,64.6],[748,56.4,69],[752.4,57,80.8],[755,57.4,69],[758,57.3,79.7],[760.7,57.3,73.3],[763,57.3,70.6],[766,57.3,66.1],[770,57.4,68.2],[772.5,57.6,72.4],[775.5,58,74.2],[778,57.6,69],[780,57.4,71.1],[783,57,65.6],[787,57,66.7],[790,57,68.5],[794,57.2,69.4],[797,57.4,65.8],[801,57.6,70.6],[803,57.8,72.6],[805.5,58.2,76.7],[808,58,70.2],[811.6,57.8,74.7],[815,57.8,69],[819.4,58,74.4],[822,57.8,67.4],[826,57.6,70.2],[829.6,57.8,80.8],[832,58,71.4],[835.6,58,74.4],[839,58.2,69.2],[842.5,58.4,73.1],[846,58.6,70.4],[849.5,58.6,72.8],[853,58.2,68],[856,58,71.8],[860,57.6,69.7],[863.3,57.8,76.1],[866,58,68.8],[870,58.2,72],[873,58.2,70.4],[875,58.2,79.4],[878,58.2,72.8],[881,58.4,70.5],[884,58.6,70.6],[887.4,58.8,78.3],[890,59,71.8],[893,59.4,69],[896,59.8,73.5],[898,60.2,74.7],[900,59.8,70.8],[903,59.2,68.5],[906,58.8,72.2],[909.6,58.6,68.1],[913,58.4,66.5],[917,58.2,70],[920,58.2,66.2],[923.5,58.2,67.8],[927,58.4,65.4],[931.8,58.6,70],[935,58.6,66.4],[940,58.6,68.2],[943,58.4,64],[946.6,58.2,68.9],[950,58.2,66],[955.8,58.4,69.7],[958,58.4,66.7],[962,58.2,64.2],[965,58,67.8],[969.7,57.6,65.8],[974,57.8,63.4],[979,57.8,70],[983,57.7,64.5],[988,57.6,65.6],[993,57.5,62.6],[999.7,57.2,69.4],[1005,57,63.2],[1012,56.8,62.4],[1020,56.5,64],[1027,56.3,61.5],[1034.4,58.6,85],[1039,55.8,63],[1043.7,55.6,70.6],[1048,55,61.5],[1055,55.4,67.2],[1062,54.8,60],[1069,54.2,60.8],[1076,53.8,59.5],[1082,53.6,58.6],[1113,57.5,82.2],[1120,54,60.4],[1127,51.1,63.3],[1145,55.8,58.8],[1175.5,56.8,70.6],[1190,57.2,60],[1198.6,57.2,61.1],[1220,57.2,59.5],[1240,58.6,81.1],[1270,57.1,59.4],[1314,57.6,81.1],[1344,56.8,61.1],[1380,56.8,59.2],[1420,56.8,58.8]];

// ---------- CHART ----------
const FONT = 'DejaVu Sans';
const BG = '#fff7dc';
const chart = echarts.init(document.getElementById('c'), null, {renderer: 'canvas'});
const G1 = {left: 59, top: 84, width: 2284, height: 504};
const G2 = {left: 59, top: 645, width: 2284, height: 504};
const plusSym = 'path://M1 0H2V1H3V2H2V3H1V2H0V1H1Z';

function xMajor(gridIndex, labels, withName) {
  return {
    type: 'value', gridIndex, min: 0, max: 1442, interval: 120,
    axisLine: {show: true, onZero: false, lineStyle: {color: '#000', width: 1.5}},
    axisTick: {show: true, length: 6, lineStyle: {color: '#000', width: 1}},
    axisLabel: {show: true, margin: 10, color: '#222', fontFamily: FONT, fontSize: 8,
      showMaxLabel: false,
      formatter: v => (v % 120 === 0 && labels[v / 120] !== undefined) ? labels[v / 120] : ''},
    splitLine: {show: true, lineStyle: {color: '#b0b0b0', width: 1.3}},
    name: withName ? 'time' : '', nameLocation: 'middle', nameGap: 26,
    nameTextStyle: {fontFamily: FONT, fontSize: 11, color: '#111'}
  };
}
function xMinor(gridIndex) {
  return {
    type: 'value', gridIndex, min: 0, max: 1442, interval: 30,
    axisLine: {show: false}, axisLabel: {show: false},
    axisTick: {show: true, length: 3.5, lineStyle: {color: '#000', width: 1}},
    splitLine: {show: true, lineStyle: {color: '#d3cbb6', width: 0.8, type: [1.5, 2]}}
  };
}
function yAx(gridIndex, right) {
  return {
    type: 'value', gridIndex, min: 24, max: 108, interval: 12, position: right ? 'right' : 'left',
    axisLine: {show: true, lineStyle: {color: '#000', width: 1.5}},
    axisTick: {show: true, length: 7, lineStyle: {color: '#000', width: 1}},
    minorTick: {show: true, splitNumber: 4, length: 3.5, lineStyle: {color: '#000', width: 1}},
    axisLabel: {margin: 12, color: '#222', fontFamily: FONT, fontSize: 8},
    splitLine: {show: !right, lineStyle: {color: '#b0b0b0', width: 1.3}},
    minorSplitLine: {show: !right, lineStyle: {color: '#cbc5b3', width: 0.8, type: [3, 2]}},
    name: 'dB SPL', nameLocation: 'middle', nameRotate: 90, nameGap: right ? 31 : 36,
    nameTextStyle: {fontFamily: FONT, fontSize: 11, color: '#111'}
  };
}

const bandRender = (params, api) => {
  if (params.dataIndex !== 0) return null;
  const top = envBand.map(d => api.coord([d[0], d[2]]));
  const bot = envBand.map(d => api.coord([d[0], d[1]])).reverse();
  return {type: 'polygon', shape: {points: top.concat(bot)}, style: {fill: 'rgba(244,168,150,0.45)'}, silent: true};
};
const spikeRender = (params, api) => {
  const a = api.coord([api.value(0), api.value(1)]);
  const b = api.coord([api.value(0), api.value(2)]);
  return {type: 'line', shape: {x1: a[0], y1: a[1], x2: b[0], y2: b[1]},
    style: {stroke: 'rgba(242,160,140,0.42)', lineWidth: 1.6}, silent: true};
};

const lineS = (name, data, color, w, xi, yi, z) => ({
  name, type: 'line', data, xAxisIndex: xi, yAxisIndex: yi, showSymbol: false, symbol: 'none',
  lineStyle: {color, width: w}, itemStyle: {color}, z, animation: false, silent: true, sampling: 'none'
});
const dotS = (name, data, color, z) => ({
  name, type: 'scatter', data, xAxisIndex: 0, yAxisIndex: 0, symbol: plusSym, symbolSize: 4.2,
  itemStyle: {color, opacity: 0.9}, z, animation: false, silent: true
});

const legendText = {fontFamily: FONT, fontSize: 9.5, color: '#111', lineHeight: 12};

chart.setOption({
  animation: false,
  backgroundColor: '#fff',
  title: [
    {text: 'data from [421/mic0]\nstarting point is [20260409_000050]', left: 24, top: 11,
      textStyle: {fontFamily: FONT, fontSize: 13, fontWeight: 'bold', color: '#000', lineHeight: 15.3}, padding: 0},
    {text: 'average and peak noise level (1 min sampling)', left: 58, top: 64, padding: 0,
      textStyle: {fontFamily: FONT, fontSize: 11, fontWeight: 'bold', color: '#000', lineHeight: 13}},
    {text: 'average noise level (5 min with 15s min/max dB envelope)', left: 58, top: 625.5, padding: 0,
      textStyle: {fontFamily: FONT, fontSize: 11, fontWeight: 'bold', color: '#000', lineHeight: 13}}
  ],
  grid: [
    Object.assign({show: true, backgroundColor: BG, borderColor: '#000', borderWidth: 1.5}, G1),
    Object.assign({show: true, backgroundColor: BG, borderColor: '#000', borderWidth: 1.5}, G2)
  ],
  xAxis: [xMajor(0, xLabelsTop, true), xMinor(0), xMajor(1, xLabelsBottom, true), xMinor(1)],
  yAxis: [yAx(0, false), yAx(0, true), yAx(1, false), yAx(1, true)],
  graphic: [
    {type: 'rect', shape: {x: 2155, y: 543, width: 183, height: 40, r: 3}, z: 100,
      style: {fill: 'rgba(255,247,222,0.85)', stroke: '#dcc39a', lineWidth: 1}},
    {type: 'rect', shape: {x: 2277, y: 1103, width: 61, height: 40, r: 3}, z: 100,
      style: {fill: 'rgba(255,247,222,0.85)', stroke: '#dcc39a', lineWidth: 1}}
  ],
  legend: [
    {orient: 'vertical', left: 2160, top: 545, itemWidth: 20, itemHeight: 5, itemGap: 0, padding: 0,
      z: 110, textStyle: legendText, selectedMode: false,
      data: [{name: 'peak dB(Z)', icon: 'circle'}, {name: 'peak dB(C)', icon: 'circle'}, {name: 'peak dB(A)', icon: 'circle'}]},
    {orient: 'vertical', left: 2257, top: 545, itemWidth: 23, itemHeight: 4, itemGap: 0, padding: 0,
      z: 110, textStyle: legendText, selectedMode: false,
      data: [{name: 'avg dB(Z)', icon: 'rect'}, {name: 'avg dB(C)', icon: 'rect'}, {name: 'avg dB(A)', icon: 'rect'}]},
    {orient: 'vertical', left: 2279, top: 1106, itemWidth: 22, itemHeight: 4, itemGap: 0, padding: 0,
      z: 110, textStyle: Object.assign({}, legendText, {lineHeight: 11.7}), selectedMode: false,
      data: [{name: 'dB(Z)', icon: 'rect'}, {name: 'dB(C)', icon: 'rect'}, {name: 'dB(A)', icon: 'rect'}]}
  ],
  series: [
    dotS('peak dB(Z)', peakZBand.concat(peakZMid, peakZHigh), '#3d9ef2', 3),
    dotS('peak dB(C)', peakCBand.concat(peakCMid, peakCHigh), '#fb35e3', 3),
    dotS('peak dB(A)', peakA, '#3a8f5f', 3),
    lineS('avg dB(Z)', avgZ1, '#4682b4', 1.4, 0, 0, 4),
    lineS('avg dB(C)', avgC1, '#da70d6', 1.4, 0, 0, 4),
    lineS('avg dB(A)', avgA1, '#9acd32', 1.4, 0, 0, 4),
    {type: 'custom', name: 'env band', xAxisIndex: 2, yAxisIndex: 2, data: envBand,
      encode: {x: 0, y: [1, 2]}, renderItem: bandRender, z: 2, silent: true, animation: false},
    {type: 'custom', name: 'env spikes', xAxisIndex: 2, yAxisIndex: 2, data: envSpikes,
      encode: {x: 0, y: [1, 2]}, renderItem: spikeRender, z: 2, silent: true, animation: false},
    lineS('dB(Z)', avgZ2, '#dc143c', 1.8, 2, 2, 4),
    lineS('dB(C)', avgC2, '#ff8c00', 1.8, 2, 2, 4),
    lineS('dB(A)', avgA2, '#ffd700', 1.8, 2, 2, 4)
  ]
});
</script>
</body></html>
